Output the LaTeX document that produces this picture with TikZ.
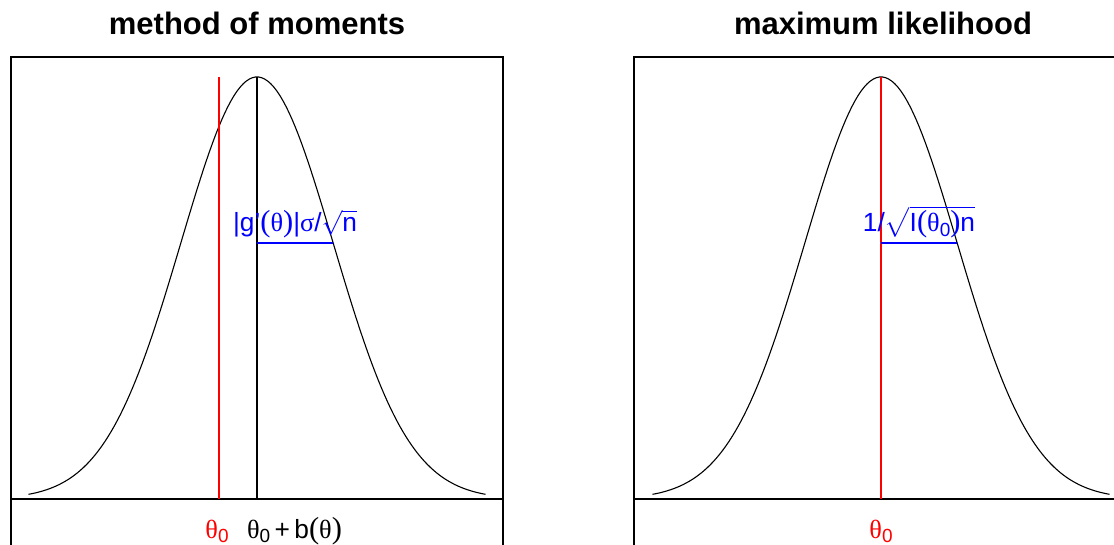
\documentclass[tikz,border=0pt]{standalone}
\usepackage{amsmath}
\usepackage{fontspec}
\setmainfont{Liberation Sans}
\newfontfamily\grk{Liberation Serif}
\usepackage{tikz}
\definecolor{rred}{HTML}{FF0000}
\definecolor{rblue}{HTML}{0000FF}
\newcommand{\tht}{{\grk θ}}
\newcommand{\sgm}{{\grk σ}}
\newcommand{\zro}{\raisebox{-0.35ex}{\fontsize{19}{19}\selectfont 0}}
\newcommand{\lpar}{{\grk\fontsize{30.5}{31}\selectfont(}}
\newcommand{\rpar}{{\grk\fontsize{30.5}{31}\selectfont)}}

\begin{document}
\begin{tikzpicture}[x=1pt, y=-1pt,
  panel/.style={draw, line width=1.1pt},
  dens/.style={line width=1.1pt},
  truth/.style={rred, line width=1.1pt},
  sdline/.style={rblue, line width=1.1pt},
  ttl/.style={font=\fontsize{31}{36}\selectfont\bfseries, anchor=base, inner sep=0pt},
  lab/.style={font=\fontsize{26.3}{30}\selectfont, anchor=base, inner sep=0pt}]
\useasboundingbox (0,0) rectangle (1114,545);
\clip (0,0) rectangle (1114,545);
% method of moments
\node[ttl] (ttlmom) at (257,35) {method of moments};
\draw[panel] (11,57) rectangle (503,570);
\coordinate (axmoml) at (11,499);
\coordinate (axmomr) at (503,499);
\draw[panel] (axmoml) -- (axmomr);
\draw[dens] plot[domain=-3:3, samples=150] ({257+76.17*\x},{499-422*exp(-0.5*\x*\x)});
\coordinate (truemomtop) at (219,77);
\coordinate (truemombot) at (219,499);
\coordinate (peakmom) at (257,77);
\coordinate (centmom) at (257,499);
\coordinate (sdmoma) at (257,243);
\coordinate (sdmomb) at (333,243);
\draw[truth] (truemomtop) -- (truemombot);
\draw[dens] (peakmom) -- (centmom);
\draw[sdline] (sdmoma) -- (sdmomb);
\node[lab, rblue] (sdmom) at (295,231.5) {|g{\char"27}\lpar\tht\rpar|\sgm/$\sqrt{\text{n}}$};
\node[lab, rred] (thmom) at (217,538) {\tht\zro};
\node[lab] (biasmom) at (294.5,538) {\tht\zro\,+\,b\lpar\tht\rpar};
% maximum likelihood
\node[ttl] (ttlml) at (883,35) {maximum likelihood};
\draw[panel] (634,57) rectangle (1126,570);
\coordinate (axmll) at (634,499);
\coordinate (axmlr) at (1126,499);
\draw[panel] (axmll) -- (axmlr);
\draw[dens] plot[domain=-3:3, samples=150] ({881+76.17*\x},{499-422*exp(-0.5*\x*\x)});
\coordinate (peakml) at (881,77);
\coordinate (centml) at (881,499);
\coordinate (sdmla) at (881,243);
\coordinate (sdmlb) at (957,243);
\draw[truth] (peakml) -- (centml);
\draw[sdline] (sdmla) -- (sdmlb);
\node[lab, rblue] (sdml) at (919,232) {1/$\sqrt{\smash{\text{I\lpar\tht\zro\rpar n}}\vphantom{\rule[-0.2em]{0pt}{1.05em}}}$};
\node[lab, rred] (thml) at (881,538) {\tht\zro};
\end{tikzpicture}
\end{document}
